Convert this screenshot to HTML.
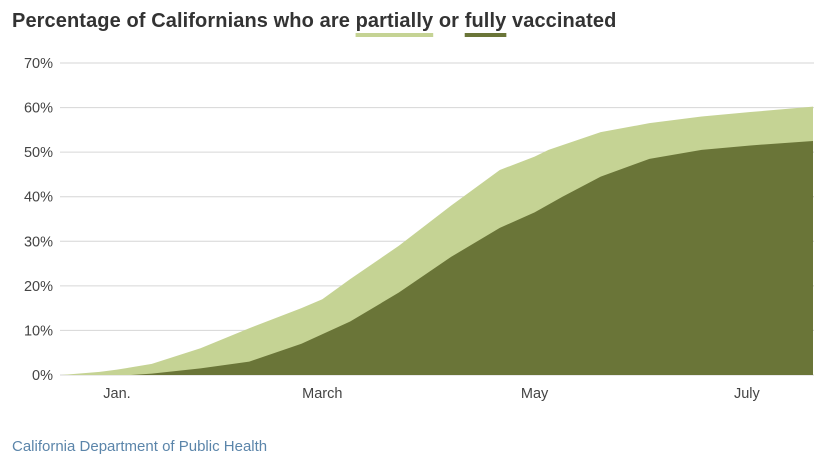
<!DOCTYPE html>
<html><head><meta charset="utf-8">
<style>
body{margin:0;background:#fff;width:840px;height:469px;overflow:hidden;font-family:"Liberation Sans",sans-serif;}
#title{position:absolute;left:12px;top:8px;font-size:20px;font-weight:bold;color:#333;letter-spacing:0.1px;line-height:26px;}
.u1{text-decoration:underline;text-decoration-color:#c5d394;text-decoration-thickness:4px;text-underline-offset:6px;}
.u2{text-decoration:underline;text-decoration-color:#6a7538;text-decoration-thickness:4px;text-underline-offset:6px;}
#src{position:absolute;left:12px;top:438px;font-size:15px;color:#5b85aa;}
svg{position:absolute;left:0;top:0;}
</style></head><body>
<div id="title">Percentage of Californians who are <span class="u1">partially</span> or <span class="u2">fully</span> vaccinated</div>
<svg id="chart" width="840" height="469"></svg>
<div id="src">California Department of Public Health</div>
<script>
const partialDays=[-16,-5,0,10,24,38,53,59,67,81,96,110,120,124,139,153,168,182,200];
const partialVals=[0,0.7,1.2,2.5,6,10.5,15,17,21.5,29,38,46,49,50.5,54.5,56.5,58,59,60.2];
const fullDays=[4,10,24,38,53,67,81,96,110,120,128,139,153,168,182,200];
const fullVals=[0,0.3,1.5,3,7,12,18.5,26.5,33,36.5,40,44.5,48.5,50.5,51.5,52.5];
const yTicks=[0,10,20,30,40,50,60,70];
const xTickDays=[0,59,120,181];
const xTickLabels=["Jan.","March","May","July"];
const NS="http://www.w3.org/2000/svg";
const svg=document.getElementById('chart');
const x=d=>117+d*3.48;
const y=v=>375-v*(312/70);
function mk(t,a){const e=document.createElementNS(NS,t);for(const k in a)e.setAttribute(k,a[k]);svg.appendChild(e);return e;}
yTicks.forEach(v=>{
  const l=mk('line',{x1:60,x2:814,y1:y(v),y2:y(v),stroke:'#d6d6d6','stroke-width':1});
  
  
  const t=mk('text',{x:53,y:y(v)+5,'text-anchor':'end','font-size':14.5,fill:'#444','font-family':'Liberation Sans'});
  t.textContent=v+'%';
  
  
});
function area(days,vals,color,name){
  let d='M'+x(days[0])+','+y(0);
  days.forEach((dd,i)=>{d+=' L'+x(dd)+','+y(vals[i]);});
  d+=' L'+x(days[days.length-1])+','+y(0)+' Z';
  const p=mk('path',{d:d,fill:color});
  
  
}
area(partialDays,partialVals,'#c5d394','partial-area');
area(fullDays,fullVals,'#6a7538','full-area');
xTickDays.forEach((dd,i)=>{
  const t=mk('text',{x:x(dd),y:398,'text-anchor':'middle','font-size':14.5,fill:'#444','font-family':'Liberation Sans'});
  t.textContent=xTickLabels[i];
  
  
});
</script>
</body></html>
